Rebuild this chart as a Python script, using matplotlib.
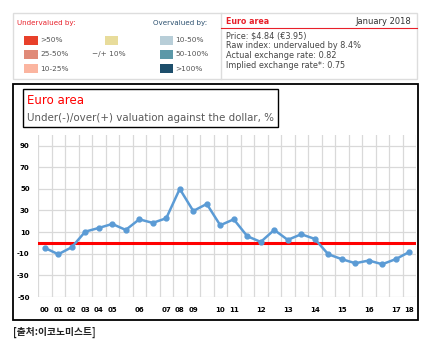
import matplotlib.pyplot as plt
from matplotlib.patches import Rectangle
from matplotlib.lines import Line2D
import numpy as np

W, H = 428, 341

# --- data (Big Mac index, euro area, % vs dollar) ---
periods = ["00", "01", "02", "03", "04", "05", "", "06", "", "07", "08", "09", "",
           "10", "11", "", "12", "", "13", "", "14", "", "15", "", "16", "", "17", "18"]
valuation = [-4.6, -10.5, -4.0, 10.4, 13.8, 17.5, 12.0, 21.8, 18.5, 22.8, 49.9, 29.5, 36.0,
             16.3, 21.8, 6.2, 0.9, 12.0, 2.8, 8.0, 3.7, -10.5, -15.0, -18.8, -16.3, -19.7,
             -15.0, -8.4]
y_ticks = [-50, -30, -10, 10, 30, 50, 70, 90]

under_labels = [">50%", "25-50%", "10-25%"]
under_colors = ["#e8402a", "#e08a78", "#fbb5a0"]
over_labels = ["10-50%", "50-100%", ">100%"]
over_colors = ["#b8ced8", "#5b98a8", "#1d4e6b"]
info_lines = ["Price: $4.84 (€3.95)", "Raw index: undervalued by 8.4%",
              "Actual exchange rate: 0.82", "Implied exchange rate*: 0.75"]

plt.rcParams["axes.unicode_minus"] = False


def fx(x):
    return x / W


def fy(y):
    return 1 - y / H


def rect(fig, x0, y0, x1, y1, **kw):
    fig.add_artist(Rectangle((fx(x0), fy(y1)), fx(x1) - fx(x0), fy(y0) - fy(y1),
                             transform=fig.transFigure, **kw))


fig = plt.figure(figsize=(W / 100, H / 100), dpi=100)
fig.patch.set_facecolor("white")

# --------------------------------------------------------------------------- #
# Legend / info panel
# --------------------------------------------------------------------------- #
rect(fig, 13, 13, 417, 79, fill=False, edgecolor="#dddddd", linewidth=1)
fig.add_artist(Line2D([fx(221), fx(221)], [fy(13), fy(79)], transform=fig.transFigure,
                      color="#dddddd", linewidth=1))

fig.text(fx(17), fy(23), "Undervalued by:", color="#e8202a", fontsize=5.1, va="center")
fig.text(fx(153), fy(23), "Overvalued by:", color="#2a4f6e", fontsize=5.1, va="center")
for i, (lab, col) in enumerate(zip(under_labels, under_colors)):
    yc = 40 + i * 14.3
    rect(fig, 24, yc - 4.5, 38, yc + 4.5, facecolor=col, edgecolor="none")
    fig.text(fx(40), fy(yc), lab, color="#555555", fontsize=5.3, va="center")
for i, (lab, col) in enumerate(zip(over_labels, over_colors)):
    yc = 40 + i * 14.3
    rect(fig, 160, yc - 4.5, 173, yc + 4.5, facecolor=col, edgecolor="none")
    fig.text(fx(175), fy(yc), lab, color="#555555", fontsize=5.3, va="center")
rect(fig, 105, 35.5, 118, 44.5, facecolor="#e8dc9b", edgecolor="none")
fig.text(fx(92), fy(54), "\u2212/+ 10%", color="#555555", fontsize=5.3, va="center")

fig.text(fx(226), fy(21), "Euro area", color="#e8202a", fontsize=5.7, weight="bold", va="center")
fig.text(fx(411), fy(21), "January 2018", color="#333333", fontsize=6, va="center", ha="right")
fig.add_artist(Line2D([fx(221), fx(417)], [fy(28), fy(28)], transform=fig.transFigure,
                      color="#e8202a", linewidth=0.8))
for i, line in enumerate(info_lines):
    fig.text(fx(226), fy(36 + i * 9.8), line, color="#444444", fontsize=5.9, va="center")

# --------------------------------------------------------------------------- #
# Chart frame and title box
# --------------------------------------------------------------------------- #
rect(fig, 13, 84, 418, 320, fill=False, edgecolor="black", linewidth=1.3)
rect(fig, 23, 89, 278, 127, fill=False, edgecolor="black", linewidth=1)
fig.text(fx(27), fy(100), "Euro area", color="red", fontsize=8.5, va="center")
fig.text(fx(27), fy(118), "Under(-)/over(+) valuation against the dollar, %",
         color="#595959", fontsize=7.4, va="center")

# --------------------------------------------------------------------------- #
# Line chart
# --------------------------------------------------------------------------- #
ax = fig.add_axes([fx(38), fy(297), fx(416) - fx(38), fy(134.7) - fy(297)])
x = np.arange(len(valuation))
ax.axhline(0, color="#ff0000", linewidth=2.2, zorder=3)
ax.plot(x, valuation, color="#5b9bd5", linewidth=1.8, marker="o", markersize=3.5, zorder=4)

ax.set_xlim(-0.5, len(valuation) - 0.5)
ax.set_ylim(-50, 100)
ax.set_yticks(y_ticks)
ax.set_xticks(x)
ax.set_xticklabels(periods)
ax.set_xticks(np.arange(len(valuation) + 1) - 0.5, minor=True)
ax.grid(False)
ax.grid(True, axis="y", which="major", color="#d9d9d9", linewidth=0.9)
ax.grid(True, axis="x", which="minor", color="#d9d9d9", linewidth=0.9)
ax.tick_params(which="both", length=0)
ax.tick_params(axis="y", pad=6)
ax.tick_params(axis="x", pad=7)
for lab in ax.get_xticklabels() + ax.get_yticklabels():
    lab.set_fontsize(5)
    lab.set_fontweight("bold")
for s in ax.spines.values():
    s.set_visible(False)
ax.set_axisbelow(True)

fig.text(fx(13), fy(332), "[출처:이코노미스트]", fontsize=7, weight="bold", color="#222222",
         family=["Noto Sans CJK KR", "DejaVu Sans"], va="center")

fig.savefig("out.png", dpi=100)
